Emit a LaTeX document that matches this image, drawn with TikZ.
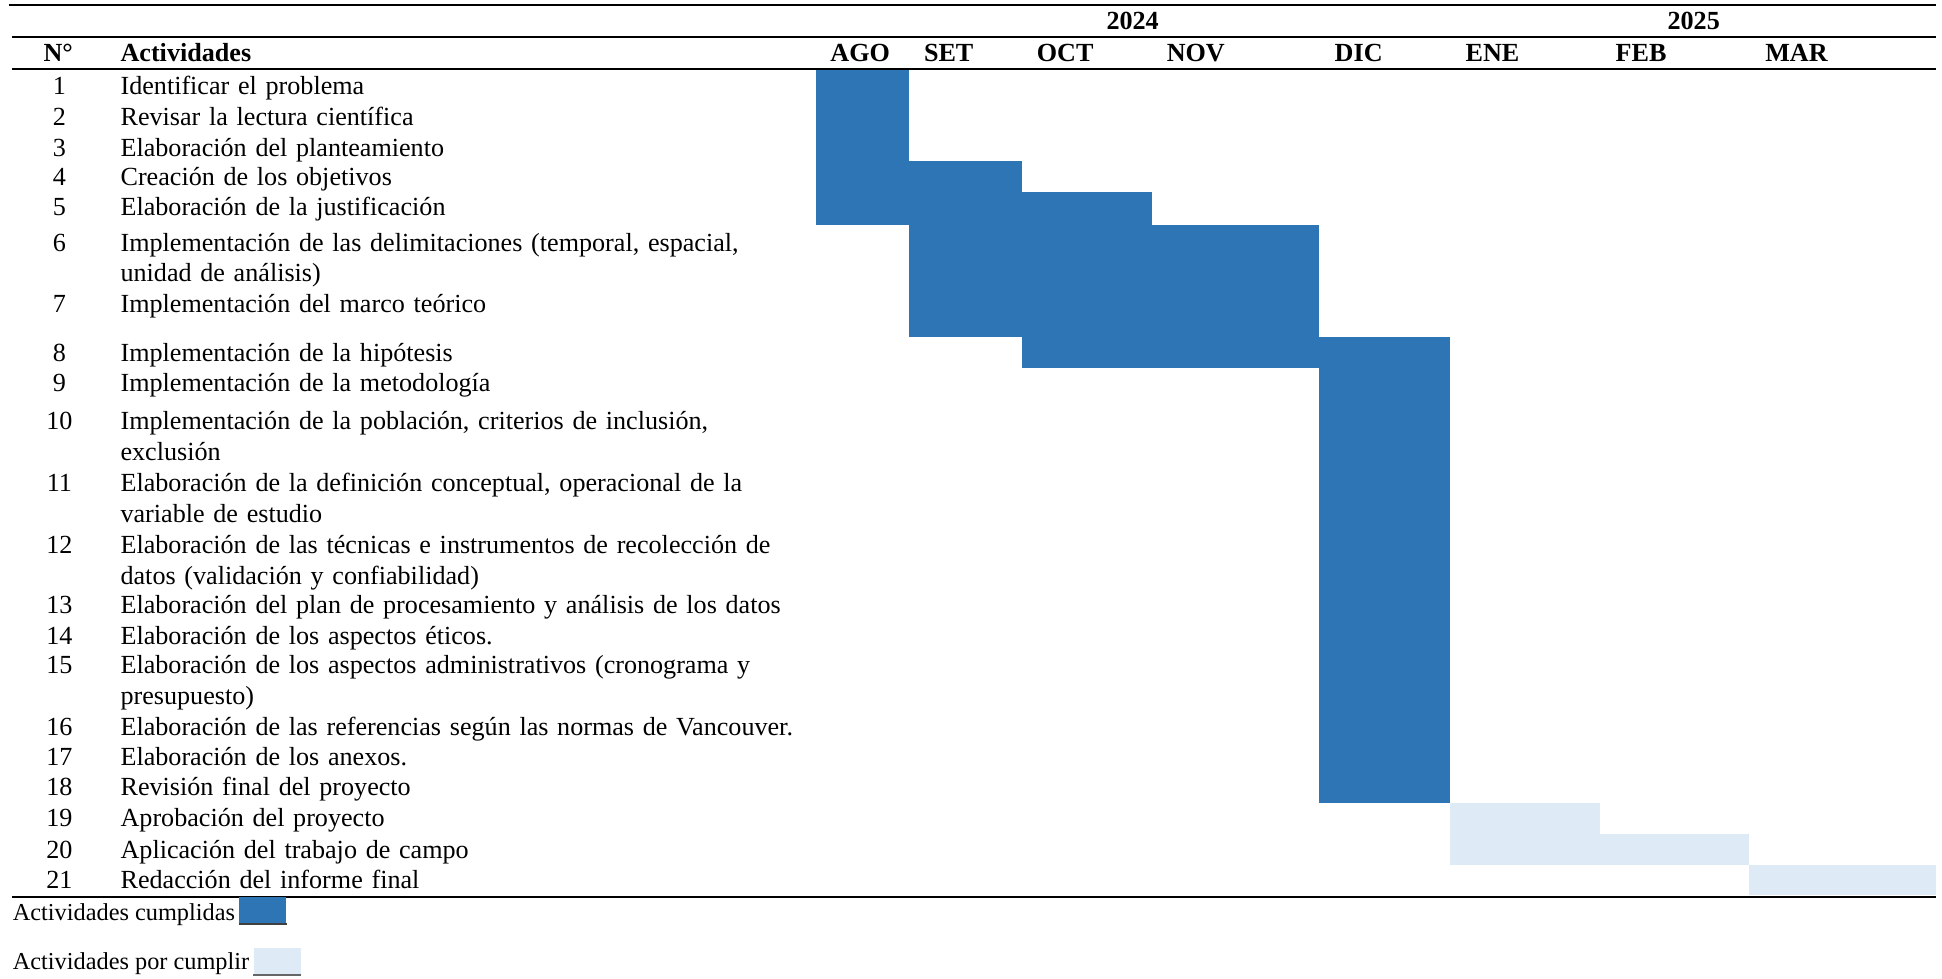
\documentclass[tikz,border=0pt]{standalone}
\usepackage{fontspec}
\setmainfont{Liberation Serif}
\definecolor{cumplida}{HTML}{2E75B6}
\definecolor{porcumplir}{HTML}{DEEAF6}

\begin{document}
\begin{tikzpicture}[x=0.55pt, y=-0.55pt,
  texto/.style = {inner sep=0pt, font=\fontsize{11.6}{13.5}\selectfont},
  num/.style = {texto, anchor=base},
  act/.style = {texto, anchor=base west, text width=330pt, align=left},
  titulo/.style = {texto, anchor=base, font=\fontsize{11.6}{13.5}\selectfont\bfseries},
  leyenda/.style = {inner sep=0pt, anchor=base west, font=\fontsize{10.8}{13}\selectfont},
  regla/.style = {line width=0.9pt},
  caja/.style = {inner sep=0pt, anchor=south west, minimum width=20.9pt, minimum height=11.8pt}]
\useasboundingbox (0,0) rectangle (1568,790.4);

% barras
\fill[cumplida] (659,56) rectangle (734,182);
\fill[cumplida] (734,130) rectangle (825,272);
\fill[cumplida] (825,155) rectangle (930,297);
\fill[cumplida] (930,182) rectangle (1065,297);
\fill[cumplida] (1065,272) rectangle (1171,648);
\fill[porcumplir] (1171,648) rectangle (1292,698);
\fill[porcumplir] (1292,673) rectangle (1412,698);
\fill[porcumplir] (1412,698) rectangle (1563,723);

% cabecera
\node[titulo] (y2024) at (914.5,24.2) {2024};
\node[titulo] (y2025) at (1367.5,24.2) {2025};
\node[titulo] (nro) at (47,49.8) {N°};
\node[titulo, anchor=base west] (acts) at (97,49.8) {Actividades};
\node[titulo] (ago) at (694.5,49.8) {AGO};
\node[titulo] (set) at (766,49.8) {SET};
\node[titulo] (oct) at (860,49.8) {OCT};
\node[titulo] (nov) at (965.5,49.8) {NOV};
\node[titulo] (dic) at (1097,49.8) {DIC};
\node[titulo] (ene) at (1205,49.8) {ENE};
\node[titulo] (feb) at (1325,49.8) {FEB};
\node[titulo] (mar) at (1450.5,49.8) {MAR};

\draw[regla] (7.5,4) -- (1563,4);
\draw[regla] (10,29.6) -- (1563,29.6);
\draw[regla] (10,55.7) -- (1563,55.7);
\draw[regla] (10,724) -- (1563,724);

% actividades
\node[num] (n1) at (48,76) {1};
\node[act] (a1) at (97,76) {Identificar el problema};
\node[num] (n2) at (48,101) {2};
\node[act] (a2) at (97,101) {Revisar la lectura científica};
\node[num] (n3) at (48,126) {3};
\node[act] (a3) at (97,126) {Elaboración del planteamiento};
\node[num] (n4) at (48,150) {4};
\node[act] (a4) at (97,150) {Creación de los objetivos};
\node[num] (n5) at (48,174) {5};
\node[act] (a5) at (97,174) {Elaboración de la justificación};
\node[num] (n6) at (48,203) {6};
\node[act] (a6) at (97,203) {Implementación de las delimitaciones (temporal, espacial,\\unidad de análisis)};
\node[num] (n7) at (48,252) {7};
\node[act] (a7) at (97,252) {Implementación del marco teórico};
\node[num] (n8) at (48,292) {8};
\node[act] (a8) at (97,292) {Implementación de la hipótesis};
\node[num] (n9) at (48,316) {9};
\node[act] (a9) at (97,316) {Implementación de la metodología};
\node[num] (n10) at (48,347) {10};
\node[act] (a10) at (97,347) {Implementación de la población, criterios de inclusión,\\exclusión};
\node[num] (n11) at (48,397) {11};
\node[act] (a11) at (97,397) {Elaboración de la definición conceptual, operacional de la\\variable de estudio};
\node[num] (n12) at (48,447) {12};
\node[act] (a12) at (97,447) {Elaboración de las técnicas e instrumentos de recolección de\\datos (validación y confiabilidad)};
\node[num] (n13) at (48,495) {13};
\node[act] (a13) at (97,495) {Elaboración del plan de procesamiento y análisis de los datos};
\node[num] (n14) at (48,520) {14};
\node[act] (a14) at (97,520) {Elaboración de los aspectos éticos.};
\node[num] (n15) at (48,544) {15};
\node[act] (a15) at (97,544) {Elaboración de los aspectos administrativos (cronograma y\\presupuesto)};
\node[num] (n16) at (48,593.5) {16};
\node[act] (a16) at (97,593.5) {Elaboración de las referencias según las normas de Vancouver.};
\node[num] (n17) at (48,618) {17};
\node[act] (a17) at (97,618) {Elaboración de los anexos.};
\node[num] (n18) at (48,642.5) {18};
\node[act] (a18) at (97,642.5) {Revisión final del proyecto};
\node[num] (n19) at (48,667.5) {19};
\node[act] (a19) at (97,667.5) {Aprobación del proyecto};
\node[num] (n20) at (48,693) {20};
\node[act] (a20) at (97,693) {Aplicación del trabajo de campo};
\node[num] (n21) at (48,717) {21};
\node[act] (a21) at (97,717) {Redacción del informe final};

% leyenda
\node[leyenda] (ley1) at (10,743) {Actividades cumplidas};
\node[caja, fill=cumplida] (c1) at ([xshift=1.5pt, yshift=-1.6pt]ley1.base east) {};
\draw[black!75, line width=0.8pt] (c1.south west) -- (c1.south east);
\node[leyenda] (ley2) at (10,783) {Actividades por cumplir};
\node[caja, fill=porcumplir] (c2) at ([xshift=1.5pt, yshift=-2.2pt]ley2.base east) {};
\draw[black!60, line width=0.8pt] (c2.south west) -- (c2.south east);
\end{tikzpicture}
\end{document}
